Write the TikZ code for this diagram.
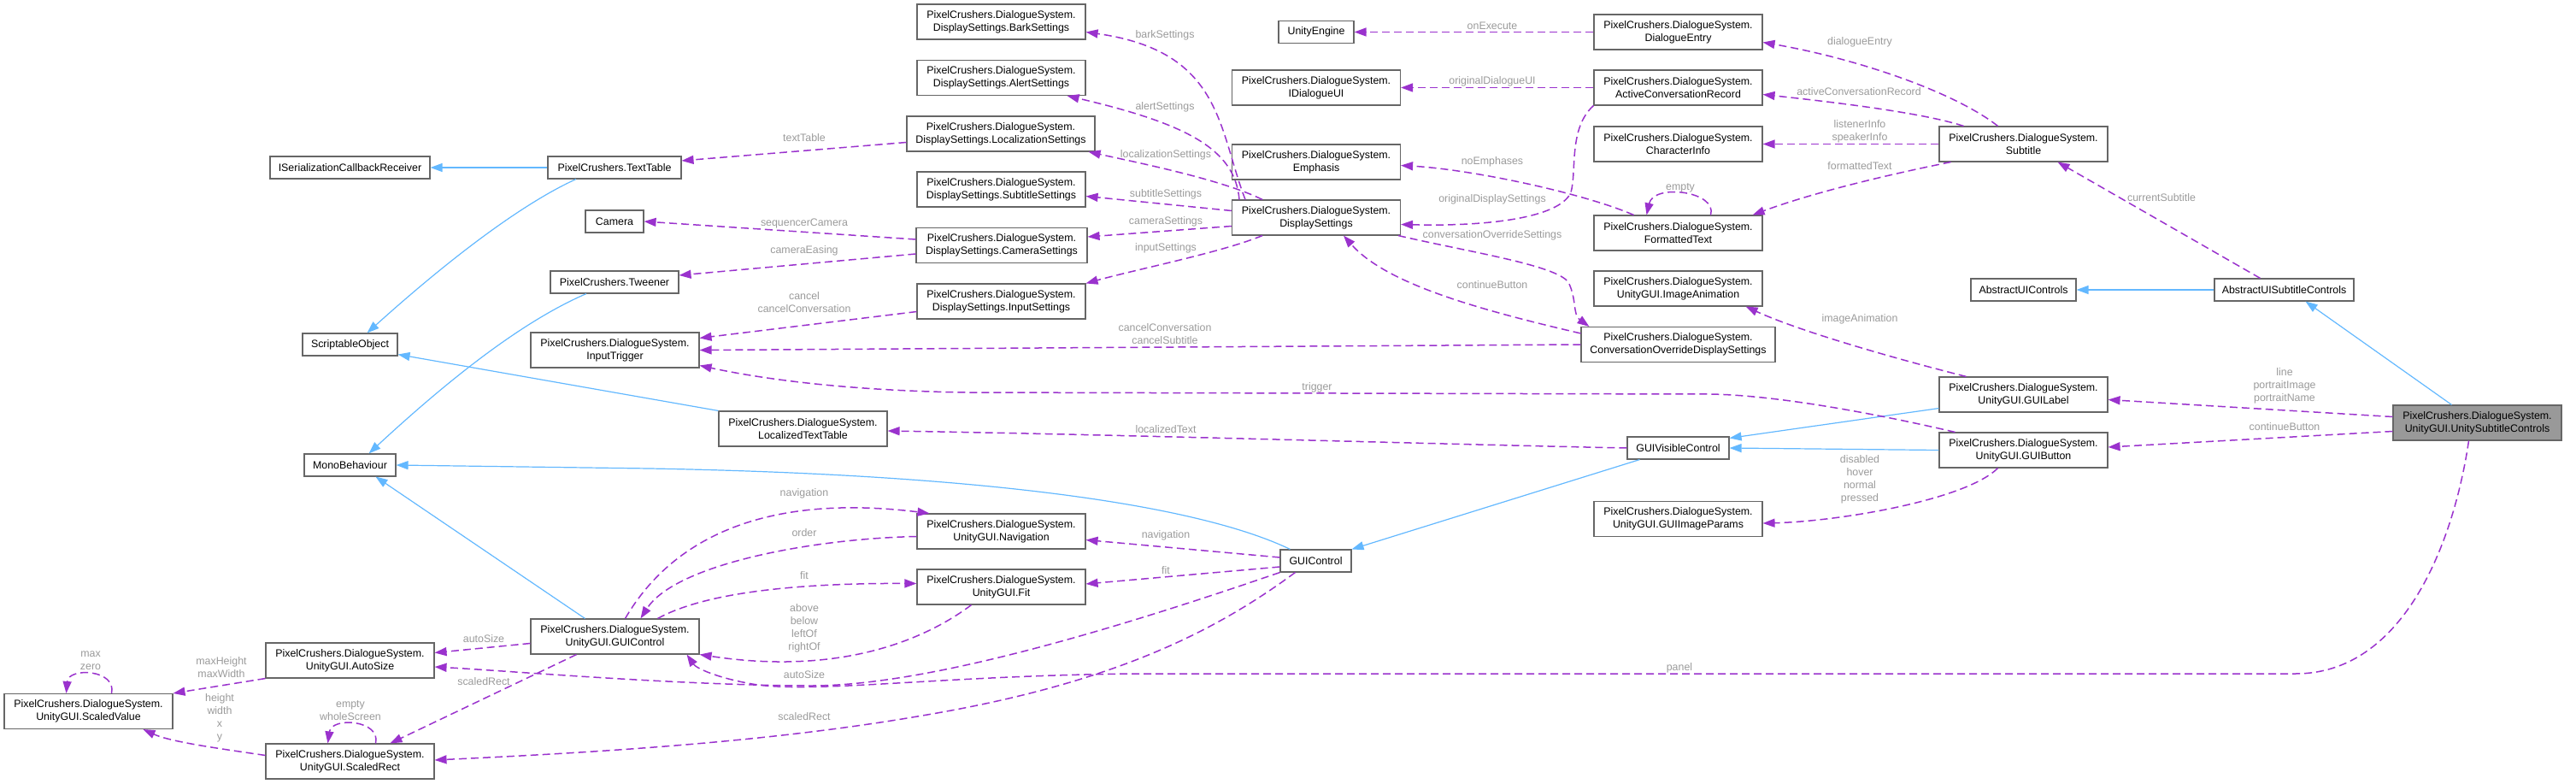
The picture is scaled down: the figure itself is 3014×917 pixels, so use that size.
\documentclass[tikz,border=0pt]{standalone}
\usepackage{fontspec}
\setmainfont{Liberation Sans}
\usetikzlibrary{arrows.meta}
\definecolor{bordergray}{HTML}{666666}
\definecolor{inhblue}{HTML}{63B8FF}
\definecolor{usepurple}{HTML}{9A32CD}
\definecolor{lblgray}{HTML}{9A9A9A}
\definecolor{focusgray}{HTML}{999999}
\newcommand{\dxfont}{\fontsize{12.4}{15}\selectfont}
\tikzset{
 cls/.style={draw=bordergray, line width=1.1pt, fill=white, align=center, inner sep=0pt, minimum height=26pt, font=\dxfont},
 clsb/.style={cls, minimum height=41pt, minimum width=197pt},
 inh/.style={draw=inhblue, line width=1.2pt, -{Triangle[length=14pt,width=10pt]}},
 use/.style={draw=usepurple, line width=1.5pt, dash pattern=on 9pt off 5pt, -{Triangle[length=14pt,width=10pt]}},
 lbl/.style={font=\dxfont, text=lblgray, align=center, inner sep=0pt},
}
\begin{document}
\begin{tikzpicture}[x=1pt,y=-1pt]
\useasboundingbox (0,0) rectangle (3014,917);
% ---- nodes ----
\node[cls, minimum width=187pt] (iscr) at (409.5,196) {ISerializationCallbackReceiver};
\node[cls, minimum width=156pt] (tt) at (719,196) {PixelCrushers.TextTable};
\node[cls, minimum width=68pt] (cam) at (719,259) {Camera};
\node[cls, minimum width=150pt] (tw) at (719,330) {PixelCrushers.Tweener};
\node[cls, minimum width=111pt] (so) at (409.5,403) {ScriptableObject};
\node[clsb] (it) at (719.5,409.5) {PixelCrushers.DialogueSystem.\\InputTrigger};
\node[cls, minimum width=107pt] (mb) at (409.5,544) {MonoBehaviour};
\node[clsb] (ltt) at (939.5,501.5) {PixelCrushers.DialogueSystem.\\LocalizedTextTable};
\node[clsb] (bark) at (1171.5,25.5) {PixelCrushers.DialogueSystem.\\DisplaySettings.BarkSettings};
\node[clsb] (alert) at (1171.5,91) {PixelCrushers.DialogueSystem.\\DisplaySettings.AlertSettings};
\node[clsb, minimum width=220pt] (loc) at (1171,156.5) {PixelCrushers.DialogueSystem.\\DisplaySettings.LocalizationSettings};
\node[clsb] (subs) at (1171.5,221.5) {PixelCrushers.DialogueSystem.\\DisplaySettings.SubtitleSettings};
\node[clsb, minimum width=200pt] (cams) at (1172,287) {PixelCrushers.DialogueSystem.\\DisplaySettings.CameraSettings};
\node[clsb] (ins) at (1171.5,352.5) {PixelCrushers.DialogueSystem.\\DisplaySettings.InputSettings};
\node[clsb] (nav) at (1171.5,621.5) {PixelCrushers.DialogueSystem.\\UnityGUI.Navigation};
\node[clsb] (fit) at (1171.5,686.5) {PixelCrushers.DialogueSystem.\\UnityGUI.Fit};
\node[clsb] (guic) at (719.5,744.5) {PixelCrushers.DialogueSystem.\\UnityGUI.GUIControl};
\node[clsb] (as) at (409.5,772.5) {PixelCrushers.DialogueSystem.\\UnityGUI.AutoSize};
\node[clsb] (sr) at (409.5,890.5) {PixelCrushers.DialogueSystem.\\UnityGUI.ScaledRect};
\node[clsb] (sv) at (103.5,832) {PixelCrushers.DialogueSystem.\\UnityGUI.ScaledValue};
\node[cls, minimum width=88pt] (ue) at (1540,37.5) {UnityEngine};
\node[clsb] (idui) at (1540,102.5) {PixelCrushers.DialogueSystem.\\IDialogueUI};
\node[clsb] (emp) at (1540,189.5) {PixelCrushers.DialogueSystem.\\Emphasis};
\node[clsb] (ds) at (1540,254.5) {PixelCrushers.DialogueSystem.\\DisplaySettings};
\node[clsb] (de) at (1963.5,37.5) {PixelCrushers.DialogueSystem.\\DialogueEntry};
\node[clsb] (acr) at (1963.5,102.5) {PixelCrushers.DialogueSystem.\\ActiveConversationRecord};
\node[clsb] (ci) at (1963.5,168.5) {PixelCrushers.DialogueSystem.\\CharacterInfo};
\node[clsb] (ft) at (1963.5,272.5) {PixelCrushers.DialogueSystem.\\FormattedText};
\node[clsb] (ia) at (1963.5,337.5) {PixelCrushers.DialogueSystem.\\UnityGUI.ImageAnimation};
\node[clsb, minimum width=227pt] (cods) at (1963.5,403) {PixelCrushers.DialogueSystem.\\ConversationOverrideDisplaySettings};
\node[cls, minimum width=119pt] (gvc) at (1963.5,524) {GUIVisibleControl};
\node[clsb] (gip) at (1963.5,607) {PixelCrushers.DialogueSystem.\\UnityGUI.GUIImageParams};
\node[cls, minimum width=83pt] (gc) at (1539.5,656) {GUIControl};
\node[clsb] (sub) at (2367.5,168.5) {PixelCrushers.DialogueSystem.\\Subtitle};
\node[cls, minimum width=123pt] (auc) at (2367.5,339) {AbstractUIControls};
\node[cls, minimum width=163pt] (ausc) at (2672.5,339) {AbstractUISubtitleControls};
\node[clsb] (gl) at (2367.5,461.5) {PixelCrushers.DialogueSystem.\\UnityGUI.GUILabel};
\node[clsb] (gb) at (2367.5,526.5) {PixelCrushers.DialogueSystem.\\UnityGUI.GUIButton};
\node[clsb, fill=focusgray] (usc) at (2898.5,494.5) {PixelCrushers.DialogueSystem.\\UnityGUI.UnitySubtitleControls};
% ---- inheritance ----
\draw[inh] (tt.west) -- (iscr.east);
\draw[inh] ([xshift=-45pt]tt.south) .. controls (620,234) and (540,290) .. ([xshift=20pt]so.north);
\draw[inh] ([xshift=-33pt]tw.south) .. controls (620,372) and (540,430) .. ([xshift=22pt]mb.north);
\draw[inh] (ltt.north west) -- ([yshift=2pt]so.south east);
\draw[inh] ([xshift=-30pt]gc.north) .. controls (1400,590) and (1150,555) .. (760,548) -- (mb.east);
\draw[inh] ([xshift=-35pt]guic.north) -- ([xshift=30pt]mb.south);
\draw[inh] ([xshift=-45pt]gvc.south) -- (gc.north east);
\draw[inh] ([yshift=5pt]gl.south west) -- ([yshift=-2pt]gvc.north east);
\draw[inh] (gb.west) -- (gvc.east);
\draw[inh] (ausc.west) -- (auc.east);
\draw[inh] ([xshift=-30pt]usc.north) -- ([xshift=25pt]ausc.south);
% ---- usage ----
\draw[use] ([xshift=-83pt]ds.north) .. controls (1425,150) and (1430,60) .. ([yshift=-12pt]bark.east);
\node[lbl] (l1) at (1363,41) {barkSettings};
\draw[use] ([xshift=-90pt]ds.north) .. controls (1445,175) and (1390,145) .. ([xshift=-22pt]alert.south east);
\node[lbl] (l2) at (1363,125) {alertSettings};
\draw[use] ([xshift=-63pt]ds.north) .. controls (1430,210) and (1330,190) .. ([xshift=-8pt]loc.south east);
\node[lbl] (l3) at (1364,181) {localizationSettings};
\draw[use] ([yshift=8pt]ds.west) -- ([yshift=-8pt]subs.east);
\node[lbl] (l4) at (1364,227) {subtitleSettings};
\draw[use] ([yshift=-10pt]ds.west) -- ([yshift=10pt]cams.east);
\node[lbl] (l5) at (1364,259) {cameraSettings};
\draw[use] ([xshift=-63pt]ds.south) .. controls (1430,295) and (1330,315) .. (ins.north east);
\node[lbl] (l6) at (1364,290) {inputSettings};
\draw[use] ([yshift=-10pt]loc.west) -- ([yshift=8pt]tt.east);
\node[lbl] (l7) at (941,161) {textTable};
\draw[use] ([yshift=7pt]cams.west) -- (cam.east);
\node[lbl] (l8) at (941,261) {sequencerCamera};
\draw[use] ([yshift=-10pt]cams.west) -- ([yshift=8pt]tw.east);
\node[lbl] (l9) at (941,293) {cameraEasing};
\draw[use] ([yshift=-12pt]ins.west) -- ([yshift=-7pt]it.north east);
\node[lbl] (l10) at (941,353.5) {cancel\\cancelConversation};
\draw[use] (cods.west) -- (it.east);
\node[lbl] (l11) at (1363,390.5) {cancelConversation\\cancelSubtitle};
\draw[use] ([xshift=-80pt]gb.north) .. controls (2200,485) and (2080,462) .. (2000,461) -- (1130,459) .. controls (1000,457) and (900,445) .. ([yshift=-18pt]it.east);
\node[lbl] (l12) at (1541,453) {trigger};
\draw[use] (gvc.west) .. controls (1700,520) and (1300,508) .. ([yshift=-2.5pt]ltt.east);
\node[lbl] (l13) at (1364,502) {localizedText};
\draw[use] (acr.west) -- (idui.east);
\node[lbl] (l14) at (1746,95) {originalDialogueUI};
\draw[use] (acr.south west) .. controls (1835,150) and (1845,200) .. (1838,225) .. controls (1825,255) and (1740,265) .. ([yshift=-8pt]ds.east);
\node[lbl] (l15) at (1746,233) {originalDisplaySettings};
\draw[use] (de.west) -- (ue.east);
\node[lbl] (l16) at (1746,30) {onExecute};
\draw[use] ([xshift=-52pt]ft.north) .. controls (1850,225) and (1720,198) .. ([yshift=-4pt]emp.east);
\node[lbl] (l17) at (1746,189) {noEmphases};
\draw[use] ([xshift=38pt]ft.north) .. controls (2010,224) and (1935,214) .. ([xshift=-37pt]ft.north);
\node[lbl] (l18) at (1966,220) {empty};
\draw[use] ([xshift=-30pt]sub.north) .. controls (2290,110) and (2180,70) .. ([yshift=-12pt]de.east);
\node[lbl] (l19) at (2176,49) {dialogueEntry};
\draw[use] ([xshift=-70pt]sub.north) .. controls (2250,132) and (2150,120) .. ([yshift=-8pt]acr.east);
\node[lbl] (l20) at (2175,107) {activeConversationRecord};
\draw[use] (sub.west) -- (ci.east);
\node[lbl] (l21) at (2176,153.5) {listenerInfo\\speakerInfo};
\draw[use] ([xshift=-85pt]sub.south) .. controls (2230,200) and (2130,222) .. ([xshift=-12pt]ft.north east);
\node[lbl] (l22) at (2176,194) {formattedText};
\draw[use] ([xshift=-28pt]ausc.north) -- ([xshift=40pt]sub.south);
\node[lbl] (l23) at (2529,231) {currentSubtitle};
\draw[use] ([xshift=-3pt]ds.south east) .. controls (1720,295) and (1820,310) .. (1835,330) .. controls (1845,350) and (1840,368) .. ([xshift=10pt]cods.north west);
\node[lbl] (l24) at (1746,275) {conversationOverrideSettings};
\draw[use] ([yshift=-8pt]cods.north west) .. controls (1720,360) and (1620,330) .. ([xshift=32pt]ds.south);
\node[lbl] (l25) at (1746,333) {continueButton};
\draw[use] ([xshift=-67pt]gl.north) .. controls (2200,415) and (2100,385) .. ([xshift=-20pt]ia.south east);
\node[lbl] (l26) at (2176,373) {imageAnimation};
\draw[use] ([xshift=-30pt]gb.south) .. controls (2300,585) and (2150,610) .. ([yshift=-5pt]gip.east);
\node[lbl] (l27) at (2176,560.5) {disabled\\hover\\normal\\pressed};
\draw[use] ([yshift=7pt]usc.west) -- ([yshift=-6pt]gl.east);
\node[lbl] (l28) at (2673,451) {line\\portraitImage\\portraitName};
\draw[use] ([yshift=-10pt]usc.west) -- ([yshift=3.5pt]gb.east);
\node[lbl] (l29) at (2673,499) {continueButton};
\draw[use] ([xshift=-10pt]usc.south) .. controls (2870,640) and (2810,788) .. (2686,788) -- (1330,788) .. controls (1100,790) and (950,812) .. (880,800) .. controls (840,793) and (815,782) .. ([xshift=-15pt]guic.south east);
\node[lbl] (l30) at (1965,781) {panel};
\draw[use] (gc.south west) .. controls (1350,720) and (1100,802) .. (950,802) .. controls (800,802) and (600,785) .. ([yshift=-7.5pt]as.east);
\node[lbl] (l31) at (941,789) {autoSize};
\draw[use] ([xshift=18pt]gc.south west) .. controls (1420,740) and (1300,800) .. (1079,837) .. controls (900,868) and (700,880) .. ([yshift=1.5pt]sr.east);
\node[lbl] (l32) at (941,838) {scaledRect};
\draw[use] ([yshift=4pt]gc.west) -- ([yshift=-10pt]nav.east);
\node[lbl] (l33) at (1364,626) {navigation};
\draw[use] ([yshift=-7pt]gc.west) -- ([yshift=3.5pt]fit.east);
\node[lbl] (l34) at (1364,667) {fit};
\draw[use] ([xshift=12pt]guic.north) .. controls (780,640) and (880,575) .. ([xshift=15pt]nav.north west);
\node[lbl] (l35) at (941,577) {navigation};
\draw[use] ([yshift=-6pt]nav.west) .. controls (950,630) and (790,660) .. ([xshift=30pt]guic.north);
\node[lbl] (l36) at (941,623) {order};
\draw[use] ([xshift=50pt]guic.north) .. controls (830,690) and (950,682) .. ([yshift=4pt]fit.west);
\node[lbl] (l37) at (941,673) {fit};
\draw[use] ([xshift=-35pt]fit.south) .. controls (1080,750) and (980,790) .. (guic.south east);
\node[lbl] (l38) at (941,734.5) {above\\below\\leftOf\\rightOf};
\draw[use] ([yshift=-8pt]guic.west) -- ([yshift=9pt]as.east);
\node[lbl] (l39) at (566,747) {autoSize};
\draw[use] ([xshift=-45pt]guic.south) -- ([xshift=47pt]sr.north);
\node[lbl] (l40) at (566,797) {scaledRect};
\draw[use] (as.south west) -- (sv.north east);
\node[lbl] (l41) at (259,780.5) {maxHeight\\maxWidth};
\draw[use] ([yshift=7pt]sr.west) .. controls (260,876) and (200,868) .. ([xshift=64pt]sv.south);
\node[lbl] (l42) at (257,839.5) {height\\width\\x\\y};
\draw[use] ([xshift=30pt]sr.north) .. controls (446,842) and (388,838) .. ([xshift=-26pt]sr.north);
\node[lbl] (l43) at (410,831.5) {empty\\wholeScreen};
\draw[use] ([xshift=27pt]sv.north) .. controls (137,783) and (80,780) .. ([xshift=-26pt]sv.north);
\node[lbl] (l44) at (106,772.5) {max\\zero};
\end{tikzpicture}
\end{document}
